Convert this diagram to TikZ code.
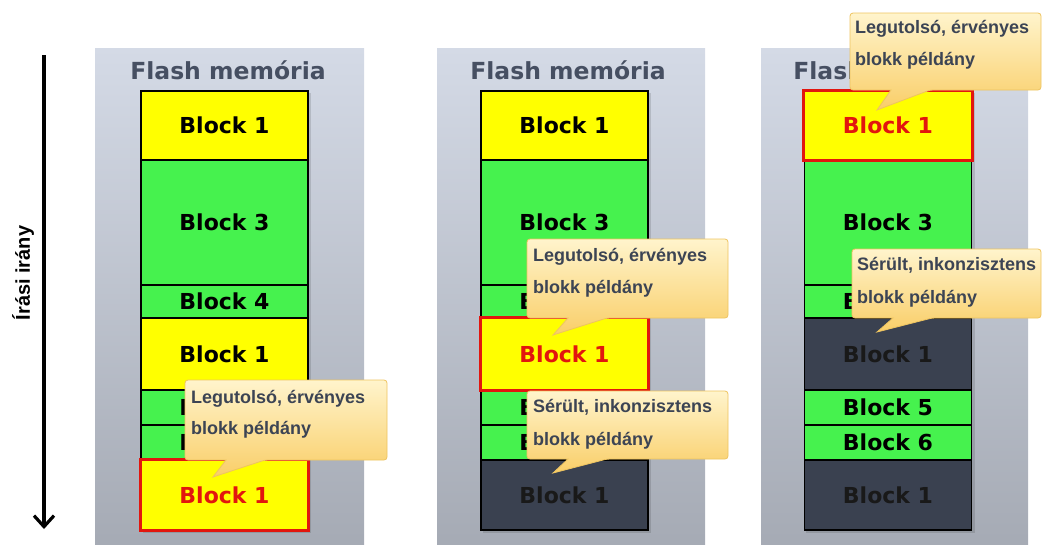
\documentclass[tikz,border=0pt]{standalone}
\usepackage{fontspec}
\usetikzlibrary{arrows.meta}
\newfontfamily\headfont{DejaVu Sans}
\newfontfamily\notefont{Liberation Sans}

\definecolor{panelTop}{RGB}{212,218,230}
\definecolor{panelBot}{RGB}{164,169,179}
\definecolor{titleInk}{RGB}{70,79,98}
\definecolor{blkYellow}{RGB}{255,255,0}
\definecolor{blkGreen}{RGB}{70,242,78}
\definecolor{blkDark}{RGB}{58,65,80}
\definecolor{alertRed}{RGB}{226,22,14}
\definecolor{noteTop}{RGB}{255,244,204}
\definecolor{noteBot}{RGB}{249,206,104}
\definecolor{noteEdge}{RGB}{238,196,96}
\definecolor{noteInk}{RGB}{60,68,84}

% callout body with a pointer: x1,y1,x2,y2,tipx,tipy
\newcommand\drawnote[6]{%
  \shadedraw[notebody, rounded corners=3pt]
    (#1,#2) -- (#3,#2) -- (#3,#4) -- ({#1+80},#4) [sharp corners]
    -- (#5,#6) -- ({#1+41},#4) [rounded corners=3pt] -- (#1,#4) -- cycle;
}

\begin{document}
\begin{tikzpicture}[x=1pt,y=-1pt,
  panel/.style={top color=panelTop, bottom color=panelBot},
  title/.style={anchor=base, inner sep=0pt, text=titleInk,
    font=\headfont\bfseries\fontsize{23.5}{26}\selectfont},
  blk/.style={draw=black, line width=1.2pt, minimum width=167pt, inner sep=0pt,
    font=\headfont\bfseries\fontsize{22}{24}\selectfont},
  yel/.style={blk, fill=blkYellow},
  grn/.style={blk, fill=blkGreen},
  drk/.style={blk, fill=blkDark, text=black!90},
  hot/.style={text=alertRed},
  redframe/.style={draw=alertRed, line width=3pt},
  notebody/.style={draw=noteEdge, line width=0.8pt, top color=noteTop, bottom color=noteBot},
  notetext/.style={anchor=base west, inner sep=0pt, text=noteInk,
    font=\notefont\bfseries\fontsize{18}{20}\selectfont},
]
\useasboundingbox (0,0) rectangle (1043,544);

\begin{scope}
\clip (0,0) rectangle (1043,544);

% memory panels
\shade[panel] (95,48) rectangle (364,560);
\shade[panel] (437,48) rectangle (705,560);
\shade[panel] (761,48) rectangle (1028,560);

\node[title] (t1) at (228,79) {Flash memória};
\node[title] (t2) at (568,79) {Flash memória};
\node[title] (t3) at (891,79) {Flash memória};

% column shadows
\fill[black, opacity=0.12] (143,93) rectangle (311,533);
\fill[black, opacity=0.12] (483,93) rectangle (651,533);
\fill[black, opacity=0.12] (806,93) rectangle (975,533);

% first column
\node[yel, minimum height=69pt]  (a1) at (224.5,125.5) {Block 1};
\node[grn, minimum height=125pt] (a2) at (224.5,222.5) {Block 3};
\node[grn, minimum height=33pt]  (a3) at (224.5,301.5) {Block 4};
\node[yel, minimum height=72pt]  (a4) at (224.5,354)   {Block 1};
\node[grn, minimum height=35pt]  (a5) at (224.5,407.5) {Block 5};
\node[grn, minimum height=35pt]  (a6) at (224.5,442.5) {Block 6};
\node[yel, hot, minimum height=70pt] (a7) at (224.5,495) {Block 1};
\draw[redframe] (a7.north west) rectangle (a7.south east);

% second column
\node[yel, minimum height=69pt]  (b1) at (564.5,125.5) {Block 1};
\node[grn, minimum height=125pt] (b2) at (564.5,222.5) {Block 3};
\node[grn, minimum height=33pt]  (b3) at (564.5,301.5) {Block 4};
\node[yel, hot, minimum height=72pt] (b4) at (564.5,354) {Block 1};
\node[grn, minimum height=35pt]  (b5) at (564.5,407.5) {Block 5};
\node[grn, minimum height=35pt]  (b6) at (564.5,442.5) {Block 6};
\node[drk, minimum height=70pt]  (b7) at (564.5,495)   {Block 1};
\draw[redframe] (b4.north west) rectangle (b4.south east);

% third column
\node[yel, hot, minimum height=69pt] (c1) at (888,125.5) {Block 1};
\node[grn, minimum height=125pt] (c2) at (888,222.5) {Block 3};
\node[grn, minimum height=33pt]  (c3) at (888,301.5) {Block 4};
\node[drk, minimum height=72pt]  (c4) at (888,354)   {Block 1};
\node[grn, minimum height=35pt]  (c5) at (888,407.5) {Block 5};
\node[grn, minimum height=35pt]  (c6) at (888,442.5) {Block 6};
\node[drk, minimum height=70pt]  (c7) at (888,495)   {Block 1};
\draw[redframe] (c1.north west) rectangle (c1.south east);

% callouts
\drawnote{185}{380}{387}{460}{213}{477}
\node[notetext] (n1a) at (191,403) {Legutolsó, érvényes};
\node[notetext] (n1b) at (191,434) {blokk példány};

\drawnote{527}{239}{728}{318}{553}{335}
\node[notetext] (n2a) at (533,261) {Legutolsó, érvényes};
\node[notetext] (n2b) at (533,293) {blokk példány};

\drawnote{527}{391}{728}{459}{553}{473}
\node[notetext] (n3a) at (533,412) {Sérült, inkonzisztens};
\node[notetext] (n3b) at (533,445) {blokk példány};

\drawnote{850}{13}{1041}{90}{877}{110}
\node[notetext] (n4a) at (855,33) {Legutolsó, érvényes};
\node[notetext] (n4b) at (855,65) {blokk példány};

\drawnote{852}{249}{1041}{318}{877}{332}
\node[notetext] (n5a) at (857,270) {Sérült, inkonzisztens};
\node[notetext] (n5b) at (857,303) {blokk példány};
\end{scope}

% write direction
\coordinate (dirTop) at (44,55);
\coordinate (dirEnd) at (44,529);
\draw[line width=3.4pt, -{Straight Barb[length=11pt,width=20pt,line width=3.2pt]}] (dirTop) -- (dirEnd);
\node[rotate=90, inner sep=0pt, font=\notefont\bfseries\fontsize{20}{22}\selectfont] (dirLabel) at (23,273) {Írási irány};
\end{tikzpicture}
\end{document}
